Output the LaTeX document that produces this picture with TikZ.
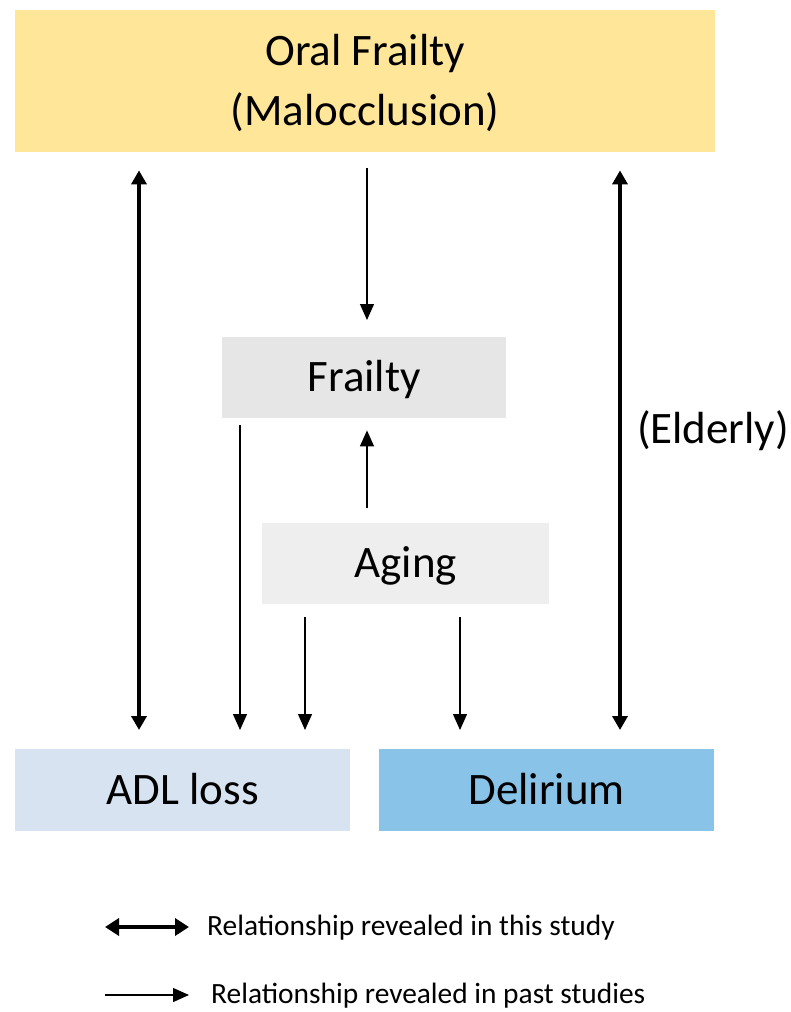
\documentclass[tikz,border=0pt]{standalone}
\usepackage{fontspec}
\setmainfont{Carlito}
\usetikzlibrary{arrows.meta}
\definecolor{oralc}{HTML}{FFE699}
\definecolor{frailc}{HTML}{E7E6E6}
\definecolor{agingc}{HTML}{EEEEEE}
\definecolor{adlc}{HTML}{D8E3F2}
\definecolor{delc}{HTML}{89C3E8}
\tikzset{
  box/.style={draw=none, inner sep=0pt, anchor=north west, font=\fontsize{45}{60}\selectfont, align=center, text depth=3pt},
  thickarr/.style={line width=3.6pt, {Triangle[length=14pt,width=15pt]}-{Triangle[length=14pt,width=15pt]}},
  thinarr/.style={line width=1.3pt, -{Triangle[length=16pt,width=14pt]}},
  legtext/.style={anchor=west, inner sep=0pt, font=\fontsize{29.4}{32}\selectfont}
}
\begin{document}
\begin{tikzpicture}[x=1pt,y=-1pt]
\useasboundingbox (0,0) rectangle (790,1012);
\node[box, fill=oralc, minimum width=700pt, minimum height=142pt] (oral) at (15,10) {Oral Frailty\\(Malocclusion)};
\node[box, fill=frailc, minimum width=284pt, minimum height=81pt] (frail) at (222,337) {Frailty};
\node[box, fill=agingc, minimum width=287pt, minimum height=81pt] (aging) at (262,523) {Aging};
\node[box, fill=adlc, minimum width=335pt, minimum height=82pt] (adl) at (15,749) {ADL loss};
\node[box, fill=delc, minimum width=335pt, minimum height=82pt] (del) at (379,749) {Delirium};
\node[anchor=center, inner sep=0pt, font=\fontsize{45}{50}\selectfont] (eld) at (713,431) {(Elderly)};
% thick double arrows
\draw[thickarr, shorten <=18pt, shorten >=19pt] ([xshift=124pt]oral.south west) -- ([xshift=124pt]adl.north west);
\draw[thickarr, shorten <=18pt, shorten >=19pt] ([xshift=605pt]oral.south west) -- ([xshift=241pt]del.north west);
% thin arrows
\draw[thinarr, shorten <=16pt, shorten >=17pt] ([xshift=352pt]oral.south west) -- ([xshift=145pt]frail.north west);
\draw[thinarr, shorten <=15pt, shorten >=12pt] ([xshift=105pt]aging.north west) -- ([xshift=145pt]frail.south west);
\draw[thinarr, shorten <=7pt, shorten >=19pt] ([xshift=18pt]frail.south west) -- ([xshift=225pt]adl.north west);
\draw[thinarr, shorten <=13pt, shorten >=19pt] ([xshift=43pt]aging.south west) -- ([xshift=290pt]adl.north west);
\draw[thinarr, shorten <=13pt, shorten >=19pt] ([xshift=198pt]aging.south west) -- ([xshift=81pt]del.north west);
% legend
\coordinate (l1a) at (105,927); \coordinate (l1b) at (189,927);
\coordinate (l2a) at (105,995); \coordinate (l2b) at (189,995);
\draw[line width=3.6pt, {Triangle[length=14pt,width=17pt]}-{Triangle[length=14pt,width=17pt]}] (l1a) -- (l1b);
\draw[thinarr] (l2a) -- (l2b);
\node[legtext] (t1) at (207,928) {Relationship revealed in this study};
\node[legtext] (t2) at (211,996) {Relationship revealed in past studies};
\end{tikzpicture}
\end{document}
